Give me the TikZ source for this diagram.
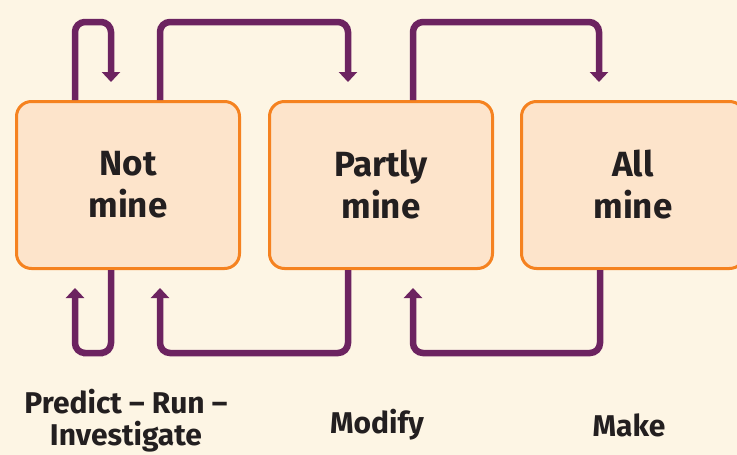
\documentclass[tikz,border=0pt]{standalone}
\usepackage{fontspec}
\setmainfont{Fira Sans}
\usetikzlibrary{arrows.meta}
\definecolor{bg}{HTML}{FDF5E4}
\definecolor{boxfill}{HTML}{FDE4CB}
\definecolor{boxline}{HTML}{F58220}
\definecolor{purp}{HTML}{6C2360}
\definecolor{txt}{HTML}{231F20}
\begin{document}
\begin{tikzpicture}[x=1pt,y=-1pt,
  stage/.style={draw=boxline,fill=boxfill,line width=3pt,rounded corners=15pt,
    minimum width=223pt,minimum height=167pt,anchor=north west,inner sep=0pt,
    text=txt,font=\fontsize{35}{42}\selectfont\bfseries,align=center},
  lbl/.style={text=txt,font=\fontsize{30}{32}\selectfont\bfseries,align=center,inner sep=0pt},
  flow/.style={draw=purp,line width=6.5pt,rounded corners=10pt,
    -{Triangle[width=18pt,length=10pt]}}]
\fill[bg] (0,0) rectangle (737,455);
\useasboundingbox (0,0) rectangle (737,455);
\node[stage] (b1) at (15,100) {Not\\mine};
\node[stage] (b2) at (268,100) {Partly\\mine};
\node[stage] (b3) at (520,100) {All\\mine};
% top arrows
\draw[flow] ([xshift=60pt]b1.north west) |- ++(18,-78) -| ([xshift=96pt,yshift=18pt]b1.north west);
\draw[flow] ([xshift=145pt]b1.north west) |- ++(94,-78) -| ([xshift=80pt,yshift=18pt]b2.north west);
\draw[flow] ([xshift=145pt]b2.north west) |- ++(93,-78) -| ([xshift=79pt,yshift=18pt]b3.north west);
% bottom arrows
\draw[flow] ([xshift=96pt]b1.south west) |- ++(-18,83) -| ([xshift=60pt,yshift=-18pt]b1.south west);
\draw[flow] ([xshift=80pt]b2.south west) |- ++(-94,83) -| ([xshift=145pt,yshift=-18pt]b1.south west);
\draw[flow] ([xshift=80pt]b3.south west) |- ++(-93,83) -| ([xshift=145pt,yshift=-18pt]b2.south west);
% labels
\node[lbl] (l1) at (126,421) {Predict – Run –\\Investigate};
\node[lbl] (l2) at (377,425) {Modify};
\node[lbl] (l3) at (629,425) {Make};
\end{tikzpicture}
\end{document}
